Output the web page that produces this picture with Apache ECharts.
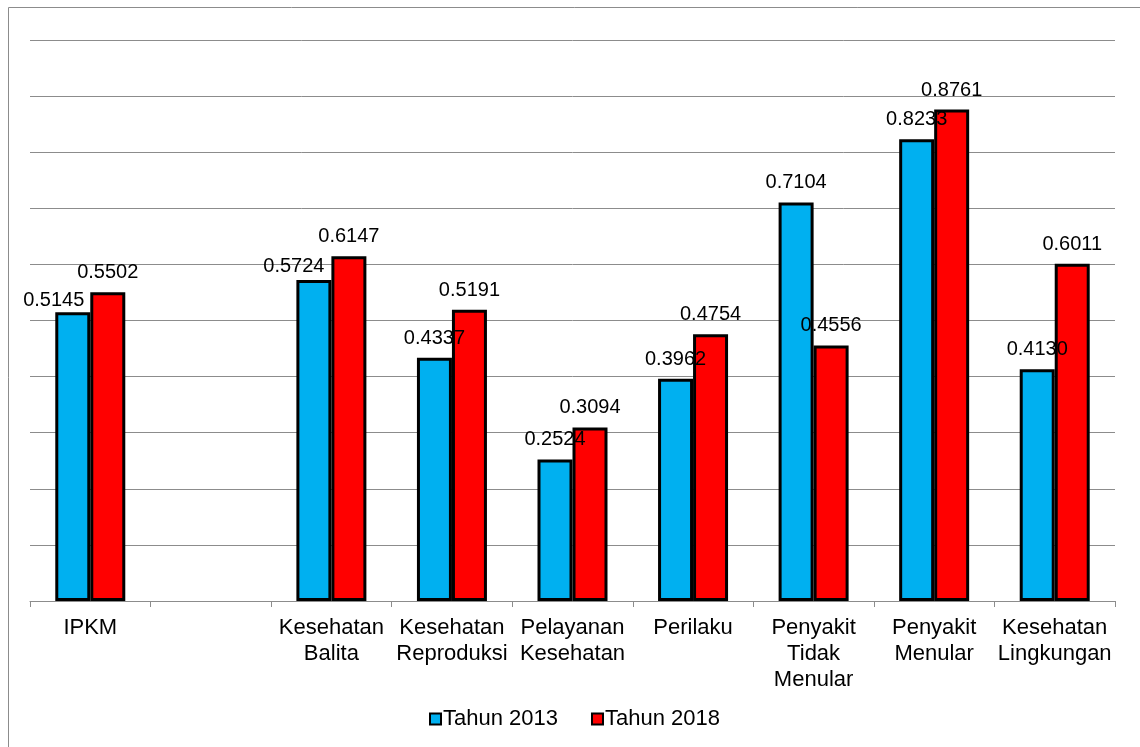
<!DOCTYPE html>
<html>
<head>
<meta charset="utf-8">
<script src="https://cdn.jsdelivr.net/npm/echarts@6/dist/echarts.min.js"></script>
<style>
html,body{margin:0;padding:0;background:#fff;}
#chart{width:1140px;height:747px;}
</style>
</head>
<body>
<div id="chart"></div>
<script>
const categories = ['IPKM', '', 'Kesehatan\nBalita', 'Kesehatan\nReproduksi', 'Pelayanan\nKesehatan', 'Perilaku', 'Penyakit\nTidak\nMenular', 'Penyakit\nMenular', 'Kesehatan\nLingkungan'];
const seriesNames = ['Tahun 2013', 'Tahun 2018'];
const values2013 = [0.5145, null, 0.5724, 0.4337, 0.2524, 0.3962, 0.7104, 0.8233, 0.4130];
const values2018 = [0.5502, null, 0.6147, 0.5191, 0.3094, 0.4754, 0.4556, 0.8761, 0.6011];

// label nudges (layout only) for the 2013 labels that Excel shifted to avoid overlap
const labelNudge2013 = {0: [-19, 8], 2: [-20, 6]};

const FONT = '"Liberation Sans", Arial, sans-serif';

function buildData(vals, nudges) {
  return vals.map((v, i) => {
    if (v === null) return null;
    const item = {value: v};
    if (nudges && nudges[i]) item.label = {offset: nudges[i]};
    return item;
  });
}

const chart = echarts.init(document.getElementById('chart'));
const barLabel = {
  show: true,
  position: 'top',
  distance: 9.5,
  color: '#000',
  fontFamily: FONT,
  fontSize: 20,
  formatter: p => p.value.toFixed(4)
};

chart.setOption({
  animation: false,
  backgroundColor: '#fff',
  grid: {left: 30, right: 25, top: 40, bottom: 146},
  graphic: [
    {type: 'line', shape: {x1: 8.5, y1: 7.5, x2: 1140, y2: 7.5}, style: {stroke: '#8c8c8c', lineWidth: 1}},
    {type: 'line', shape: {x1: 8.5, y1: 7.5, x2: 8.5, y2: 747}, style: {stroke: '#8c8c8c', lineWidth: 1}}
  ],
  legend: {
    left: 424,
    top: 703,
    itemWidth: 11,
    itemHeight: 11,
    itemGap: 33,
    icon: 'rect',
    textStyle: {color: '#000', fontFamily: FONT, fontSize: 22, padding: [0, 0, 0, -3]},
    itemStyle: {borderColor: '#000', borderWidth: 2},
    data: seriesNames
  },
  xAxis: {
    type: 'category',
    data: categories,
    boundaryGap: true,
    axisLine: {lineStyle: {color: '#8c8c8c', width: 1}},
    axisTick: {show: true, length: 6, lineStyle: {color: '#8c8c8c'}},
    axisLabel: {
      interval: 0,
      color: '#000',
      fontFamily: FONT,
      fontSize: 22,
      lineHeight: 26,
      margin: 14
    }
  },
  yAxis: {
    type: 'value',
    min: 0,
    max: 1,
    interval: 0.1,
    axisLabel: {show: false},
    axisLine: {show: false},
    axisTick: {show: false},
    splitLine: {lineStyle: {color: '#8c8c8c', width: 1}}
  },
  series: [
    {
      name: seriesNames[0],
      type: 'bar',
      barWidth: 35,
      barGap: '0%',
      data: buildData(values2013, labelNudge2013),
      itemStyle: {color: '#00B0F0', borderColor: '#000', borderWidth: 3},
      label: barLabel
    },
    {
      name: seriesNames[1],
      type: 'bar',
      barWidth: 35,
      barGap: '0%',
      data: buildData(values2018, null),
      itemStyle: {color: '#FF0000', borderColor: '#000', borderWidth: 3},
      label: barLabel
    }
  ]
});
</script>
</body>
</html>
